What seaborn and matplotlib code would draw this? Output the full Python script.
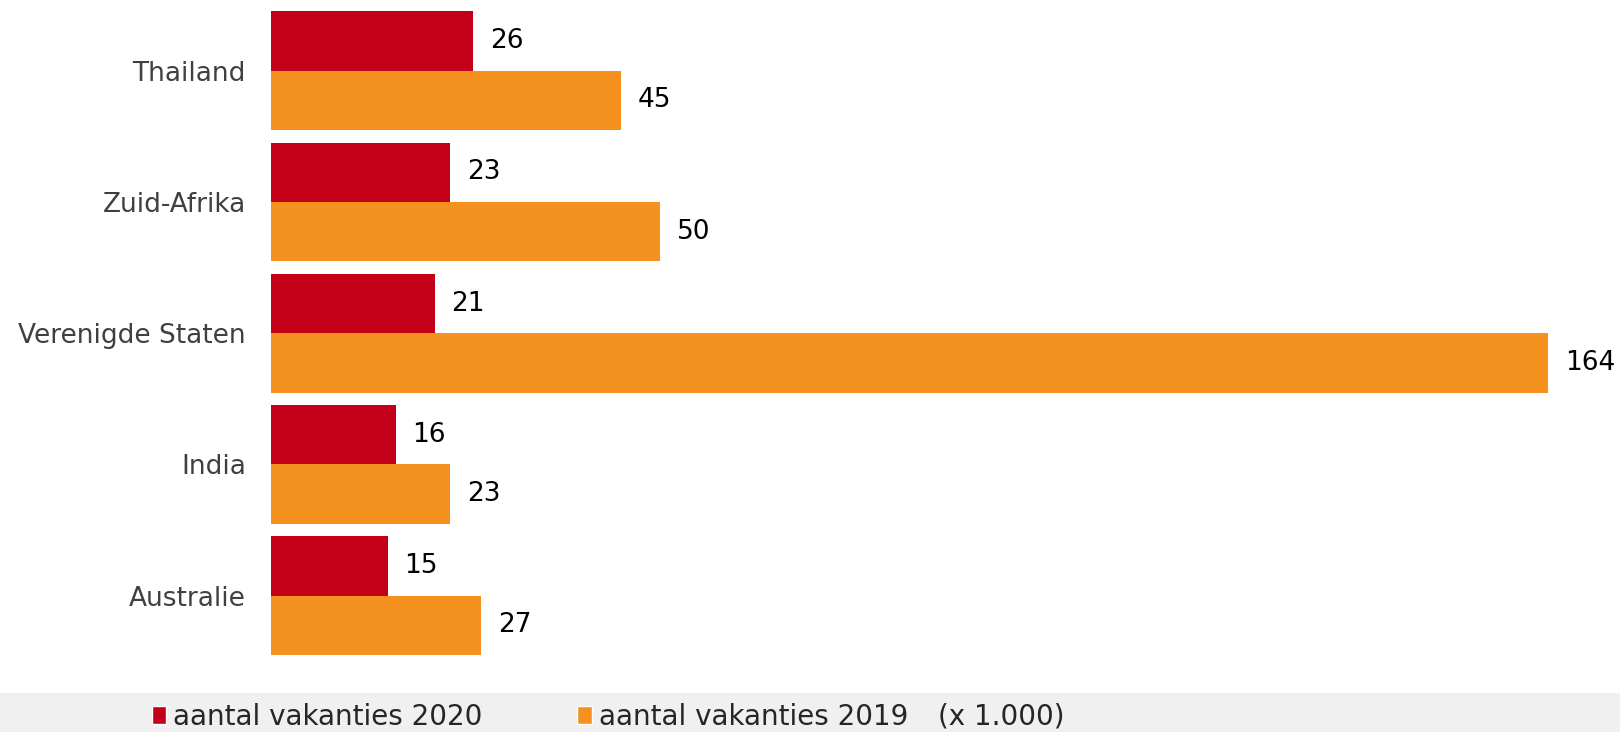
import pandas as pd
import matplotlib.pyplot as plt
import seaborn as sns
from matplotlib.patches import Rectangle, Patch


# Data (x 1.000)
countries = ["Thailand", "Zuid-Afrika", "Verenigde Staten", "India", "Australie"]
vak_2020 = [26, 23, 21, 16, 15]
vak_2019 = [45, 50, 164, 23, 27]
series = ["aantal vakanties 2020", "aantal vakanties 2019"]

RED = "#c40018"
ORANGE = "#f5921f"

df = pd.DataFrame({
    "land": countries * 2,
    "aantal": vak_2020 + vak_2019,
    "serie": [series[0]] * len(countries) + [series[1]] * len(countries),
})

sns.set_theme(style="white")
plt.rcParams["font.family"] = ["DejaVu Sans"]

fig = plt.figure(figsize=(16.2, 7.32), dpi=100)
ax = fig.add_axes([271 / 1620, 1 - 655 / 732, (1548 - 271) / 1620, (655 - 11.4) / 732])

sns.barplot(data=df, y="land", x="aantal", hue="serie", hue_order=series,
            order=countries, palette=[RED, ORANGE], saturation=1,
            width=0.905, orient="h", ax=ax, legend=False, linewidth=0)

for c in ax.containers:
    ax.bar_label(c, padding=12, fontsize=19, color="black")

ax.set_xlim(0, 164)
ax.set_ylim(4.4527, -0.4527)
ax.set_xlabel("")
ax.set_ylabel("")
ax.set_xticks([])
ax.tick_params(axis="y", length=0, pad=18, labelsize=19, labelcolor="#404040")
sns.despine(ax=ax, left=True, bottom=True)

# Legend band
fig.patches.append(Rectangle((0, 0), 1, 1 - 693 / 732, transform=fig.transFigure,
                             facecolor="#f0f0f0", edgecolor="none", zorder=0))
handles = [Patch(facecolor=RED), Patch(facecolor=ORANGE)]
fig.legend(handles, series, loc="center left", bbox_to_anchor=(152 / 1620, 1 - 717 / 732),
           ncol=2, frameon=False, fontsize=20, handlelength=0.52, handleheight=0.6,
           handletextpad=0.25, columnspacing=3.4, borderaxespad=0, borderpad=0)
fig.text(938 / 1620, 1 - 717 / 732, "(x 1.000)", fontsize=20, va="center", ha="left")

fig.savefig("out.png", dpi=100)
